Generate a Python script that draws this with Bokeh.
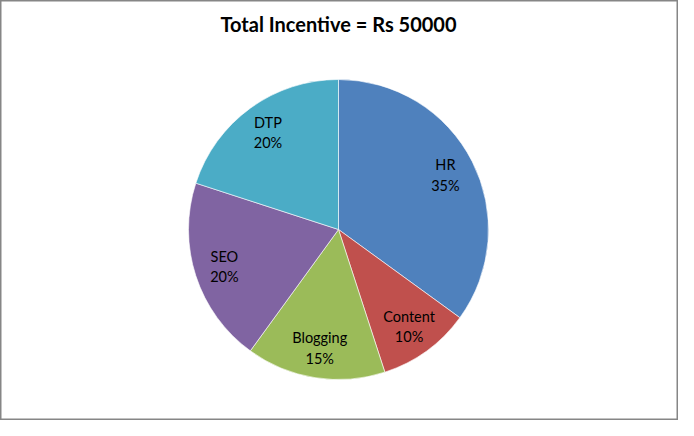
import math
from bokeh.plotting import figure
from bokeh.models import ColumnDataSource, Range1d
from bokeh.core.properties import value
from bokeh.embed import file_html
from bokeh.resources import INLINE

categories = ["HR", "Content", "Blogging", "SEO", "DTP"]
percents = [35, 10, 15, 20, 20]
colors = ["#4F81BD", "#C0504D", "#9BBB59", "#8064A2", "#4BACC6"]
title_text = "Total Incentive = Rs 50000"

W, H = 678, 420
cx, cy, r = 338, 191, 150

total = sum(percents)
starts, ends, lx, ly, labels = [], [], [], [], []
cum = 0
for c, v in zip(categories, percents):
    a0 = math.pi / 2 - 2 * math.pi * (cum + v) / total
    a1 = math.pi / 2 - 2 * math.pi * cum / total
    starts.append(a0)
    ends.append(a1)
    mid = (a0 + a1) / 2
    lx.append(cx + 0.8 * r * math.cos(mid))
    ly.append(cy + 0.8 * r * math.sin(mid))
    labels.append(f"{c}\n{v}%")
    cum += v

src = ColumnDataSource(dict(start=starts, end=ends, color=colors, lx=lx, ly=ly, label=labels))

p = figure(width=W, height=H, output_backend="svg", toolbar_location=None,
           x_range=Range1d(0, W), y_range=Range1d(0, H), min_border=0)
p.axis.visible = False
p.grid.visible = False
p.outline_line_color = "#868686"
p.outline_line_width = 2
p.background_fill_color = "white"
p.border_fill_color = "white"

p.wedge(x=cx, y=cy, radius=r, start_angle="start", end_angle="end",
        fill_color="color", line_color="white", line_width=0.6, source=src)
p.text(x="lx", y="ly", text="label", source=src, text_align="center",
       text_baseline="middle", text_font=value("Lato"), text_font_size="14.5px",
       text_color="#000000", text_line_height=1.2)
p.text(x=[cx], y=[H - 23], text=[title_text], text_align="center",
       text_baseline="middle", text_font=value("Lato"), text_font_size="20px",
       text_font_style="bold", text_color="#000000")

open("out.html", "w").write(file_html(p, INLINE))
